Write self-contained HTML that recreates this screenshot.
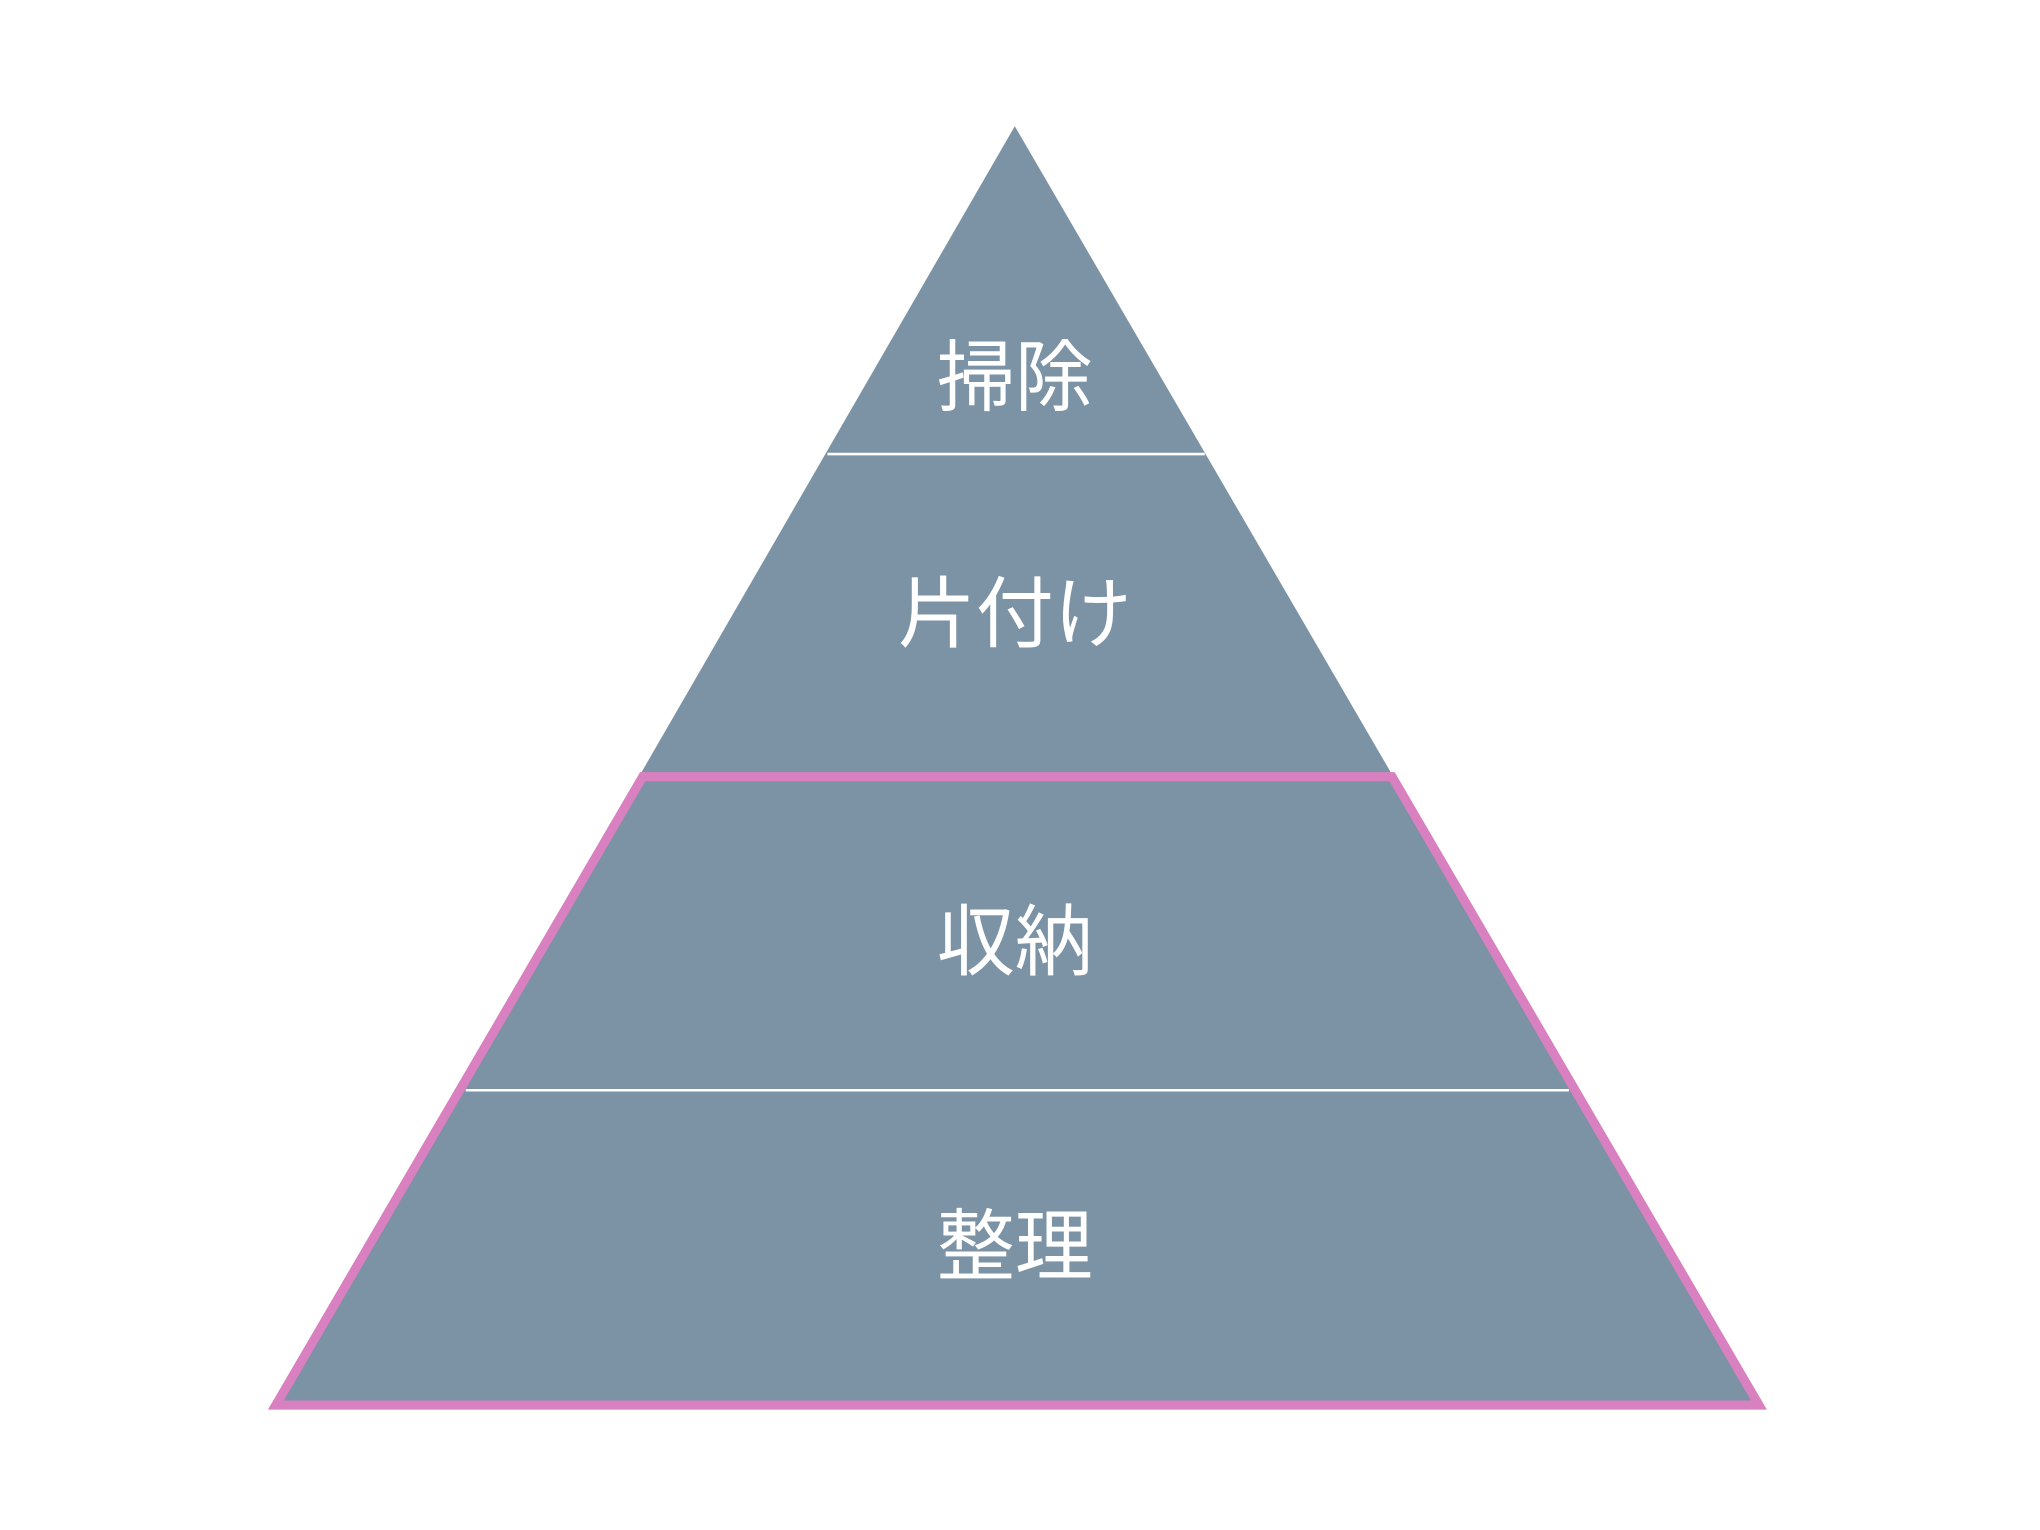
<!DOCTYPE html>
<html><head><meta charset="utf-8"><style>html,body{margin:0;padding:0;background:#fff}svg{display:block}</style></head>
<body>
<svg width="2040" height="1530" viewBox="0 0 1568 1176" preserveAspectRatio="none" xmlns="http://www.w3.org/2000/svg">
<polygon points="780,97 1352,1080 212,1080" fill="#7b93a4"/>
<line x1="636" y1="349" x2="926" y2="349" stroke="#fff" stroke-width="2"/>
<line x1="358" y1="838" x2="1206" y2="838" stroke="#fff" stroke-width="2"/>
<polygon points="494,597 1070,597 1352,1080 212,1080" fill="none" stroke="#d980c0" stroke-width="7"/>
<g fill="#fff" font-family="'Liberation Sans','Noto Sans CJK JP',sans-serif" font-size="60" text-anchor="middle" dominant-baseline="central">
<text x="780" y="290">掃除</text>
<text x="780" y="472">片付け</text>
<text x="780" y="724">収納</text>
<text x="780" y="958">整理</text>
</g>
</svg>
</body></html>
